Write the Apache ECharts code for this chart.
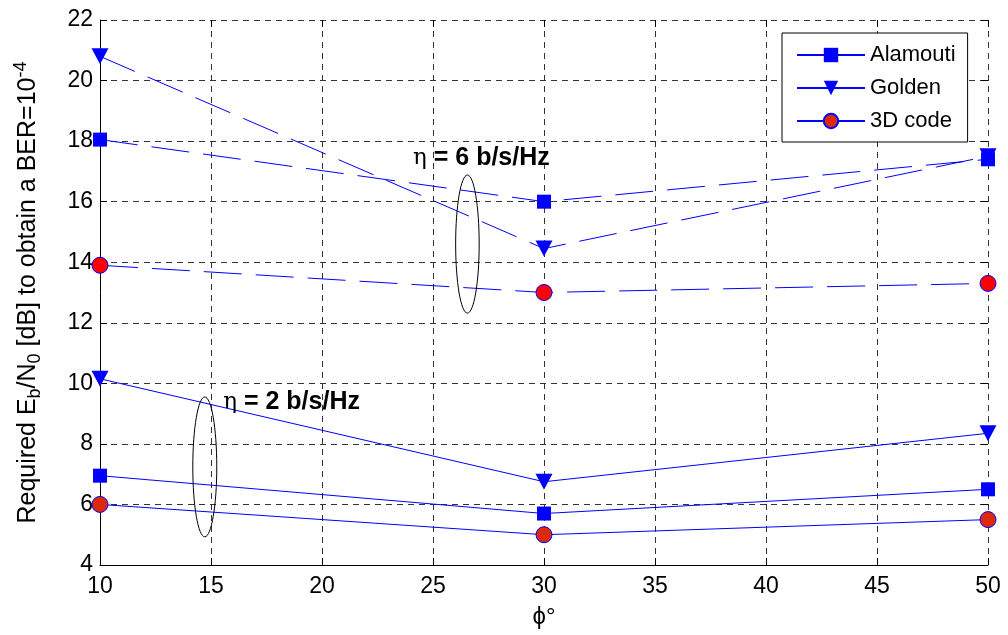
<!DOCTYPE html>
<html>
<head>
<meta charset="utf-8">
<script src="https://cdn.jsdelivr.net/npm/echarts@6/dist/echarts.min.js"></script>
<style>
  html, body { margin: 0; padding: 0; background: #fff; }
  #chart { width: 1008px; height: 635px; }
</style>
</head>
<body>
<div id="chart"></div>
<script>
// Rotation angle (degrees)
const phi = [10, 30, 50];

// Required Eb/N0 [dB] at BER = 1e-4, spectral efficiency 2 b/s/Hz (solid)
const alamouti2 = [6.95, 5.7, 6.5];
const golden2   = [10.15, 6.75, 8.35];
const code3d2   = [6.0, 5.0, 5.5];

// Same, spectral efficiency 6 b/s/Hz (dashed)
const alamouti6 = [18.05, 16.0, 17.4];
const golden6   = [20.8, 14.45, 17.5];
const code3d6   = [13.9, 13.0, 13.3];

// Group annotations: ellipse centre and half-extent in data units, and text anchors
const groupEllipses = [[26.55, 14.6, 0.53, 2.28], [14.72, 7.24, 0.54, 2.31]];
const groupLabels = [[24.1, 17.45, '6'], [15.55, 9.38, '2']];

const FONT = '"Liberation Sans", Arial, sans-serif';
const BLUE = '#0000ff';

function pairs(ys) { return phi.map((x, i) => [x, ys[i]]); }

function curve(name, ys, dashed, kind) {
  const base = {
    type: 'line',
    name: name,
    data: pairs(ys),
    lineStyle: { color: BLUE, width: 1, type: dashed ? [38, 14] : 'solid' },
    itemStyle: { color: BLUE, borderColor: BLUE, borderWidth: 0 },
    symbol: 'rect',
    symbolSize: 14,
    z: 3,
    animation: false,
    emphasis: { disabled: true }
  };
  if (kind === 'golden') {
    base.symbol = 'triangle';
    base.symbolRotate = 180;
    base.symbolSize = [17, 16];
  } else if (kind === 'code3d') {
    base.symbol = 'circle';
    base.symbolSize = 16;
    base.itemStyle = { color: dashed ? '#ff0000' : '#dc2a08', borderColor: BLUE, borderWidth: 1 };
  }
  return base;
}

const chart = echarts.init(document.getElementById('chart'), null, { renderer: 'canvas' });

const option = {
  backgroundColor: '#fff',
  animation: false,
  grid: { left: 100, right: 20, top: 20, bottom: 70, containLabel: false },
  legend: {
    data: ['Alamouti', 'Golden', '3D code'],
    orient: 'vertical',
    left: 782,
    top: 33,
    padding: [11, 12, 10, 14],
    itemWidth: 68,
    itemHeight: 18,
    itemGap: 11,
    backgroundColor: '#fff',
    borderColor: '#000',
    borderWidth: 1,
    textStyle: { fontFamily: FONT, fontSize: 22, color: '#000' },
    selectedMode: false
  },
  xAxis: [{
    type: 'value', min: 10, max: 50, interval: 5,
    name: 'ϕ°', nameLocation: 'middle', nameGap: 40,
    nameTextStyle: { fontFamily: FONT, fontSize: 24, color: '#000' },
    axisLine: { show: true, lineStyle: { color: '#000', width: 1 } },
    axisTick: { show: true, inside: true, length: 7, lineStyle: { color: '#000' } },
    axisLabel: { fontFamily: FONT, fontSize: 23, color: '#000', margin: 10 },
    splitLine: { show: true, lineStyle: { color: '#333', width: 1, type: [6, 5] } }
  }, {
    type: 'value', min: 10, max: 50, interval: 5, position: 'top',
    axisLine: { show: false },
    axisTick: { show: true, inside: true, length: 7, lineStyle: { color: '#000' } },
    axisLabel: { show: false },
    splitLine: { show: false }
  }],
  yAxis: [{
    type: 'value', min: 4, max: 22, interval: 2,
    name: 'Required E{sub|b}/N{sub|0} [dB] to obtain a BER=10{sup|-4}',
    nameLocation: 'middle', nameGap: 56,
    nameTextStyle: {
      fontFamily: FONT, fontSize: 25, color: '#000', lineHeight: 32,
      rich: {
        sub: { fontFamily: FONT, fontSize: 18, color: '#000', verticalAlign: 'bottom', lineHeight: 24 },
        sup: { fontFamily: FONT, fontSize: 18, color: '#000', verticalAlign: 'top', lineHeight: 24 }
      }
    },
    axisLine: { show: true, lineStyle: { color: '#000', width: 1 } },
    axisTick: { show: true, inside: true, length: 7, lineStyle: { color: '#000' } },
    axisLabel: { fontFamily: FONT, fontSize: 23, color: '#000', margin: 7 },
    splitLine: { show: true, lineStyle: { color: '#333', width: 1, type: [6, 5] } }
  }, {
    type: 'value', min: 4, max: 22, interval: 2, position: 'right',
    axisLine: { show: false },
    axisTick: { show: true, inside: true, length: 7, lineStyle: { color: '#000' } },
    axisLabel: { show: false },
    splitLine: { show: false }
  }],
  series: [
    curve('Alamouti', alamouti2, false, 'alamouti'),
    curve('Golden', golden2, false, 'golden'),
    curve('3D code', code3d2, false, 'code3d'),
    curve('Alamouti 6 b/s/Hz', alamouti6, true, 'alamouti'),
    curve('Golden 6 b/s/Hz', golden6, true, 'golden'),
    curve('3D code 6 b/s/Hz', code3d6, true, 'code3d'),
    {
      type: 'custom',
      name: 'groups',
      data: groupEllipses,
      silent: true,
      z: 4,
      renderItem: function (params, api) {
        const c = api.coord([api.value(0), api.value(1)]);
        const s = api.size([api.value(2), api.value(3)]);
        return {
          type: 'ellipse',
          shape: { cx: c[0], cy: c[1], rx: s[0], ry: s[1] },
          style: { fill: null, stroke: '#000', lineWidth: 1 }
        };
      }
    },
    {
      type: 'custom',
      name: 'group labels',
      data: groupLabels,
      silent: true,
      z: 5,
      renderItem: function (params, api) {
        const c = api.coord([api.value(0), api.value(1)]);
        const eff = groupLabels[params.dataIndex][2];
        return {
          type: 'text',
          x: c[0], y: c[1],
          style: {
            text: '{eta|η}{b| = ' + eff + ' b/s/Hz}',
            align: 'left',
            verticalAlign: 'middle',
            rich: {
              eta: { fontFamily: '"DejaVu Serif", serif', fontSize: 23, fill: '#000' },
              b: { fontFamily: FONT, fontSize: 25, fontWeight: 'bold', fill: '#000' }
            }
          }
        };
      }
    }
  ]
};

chart.setOption(option);
</script>
</body>
</html>
